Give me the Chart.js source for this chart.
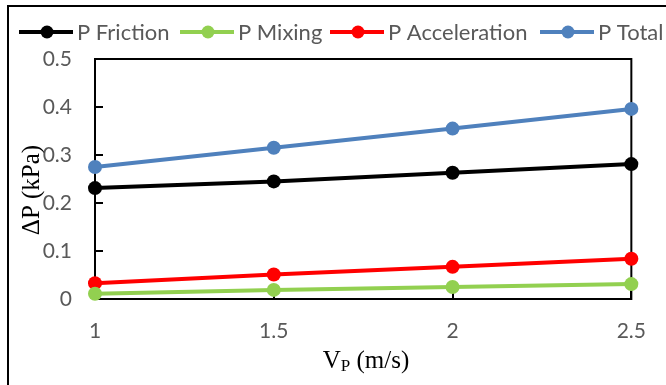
<!DOCTYPE html>
<html>
<head>
<meta charset="utf-8">
<script src="https://cdn.jsdelivr.net/npm/chart.js@4"></script>
<style>
  body { margin: 0; background: #fff; }
  canvas { display: block; }
</style>
</head>
<body>
<canvas id="myChart" width="666" height="385"></canvas>
<script>
// Velocity values (m/s)
const velocities = [1, 1.5, 2, 2.5];
// Pressure drop components (kPa)
const pFriction = [0.231, 0.245, 0.263, 0.281];
const pMixing = [0.011, 0.019, 0.025, 0.031];
const pAcceleration = [0.033, 0.051, 0.067, 0.084];
const pTotal = [0.275, 0.315, 0.355, 0.396];

const seriesNames = ['P Friction', 'P Mixing', 'P Acceleration', 'P Total'];
const seriesValues = [pFriction, pMixing, pAcceleration, pTotal];
const seriesColors = ['#000000', '#92D050', '#FF0000', '#4F81BD'];

const tickFont = { family: 'Lato', size: 21 };
const tickColor = '#595959';

const datasets = seriesNames.map((name, i) => ({
    label: name,
    data: velocities.map((v, j) => ({ x: v, y: seriesValues[i][j] })),
    borderColor: seriesColors[i],
    backgroundColor: seriesColors[i],
    borderWidth: 4,
    pointRadius: 7,
    pointHoverRadius: 7,
    pointBorderWidth: 0,
    clip: false,
    tension: 0
}));

// plot frame, inner tick marks, axis titles and legend
const decorations = {
    id: 'decorations',
    beforeDatasetsDraw(chart) {
        const ctx = chart.ctx;
        const a = chart.chartArea;
        const xs = chart.scales.x, ys = chart.scales.y;
        ctx.save();
        ctx.strokeStyle = '#000';
        ctx.lineWidth = 2;
        ctx.strokeRect(a.left, a.top, a.right - a.left, a.bottom - a.top);
        ctx.beginPath();
        ys.ticks.forEach(t => {
            const y = Math.round(ys.getPixelForValue(t.value));
            ctx.moveTo(a.left, y);
            ctx.lineTo(a.left + 8, y);
        });
        xs.ticks.forEach(t => {
            const x = Math.round(xs.getPixelForValue(t.value));
            ctx.moveTo(x, a.bottom);
            ctx.lineTo(x, a.bottom - 8);
        });
        ctx.stroke();
        ctx.restore();
    },
    afterDraw(chart) {
        const ctx = chart.ctx;
        ctx.save();

        // outer chart border
        ctx.strokeStyle = '#000';
        ctx.lineWidth = 2;
        ctx.beginPath();
        ctx.moveTo(8, 385);
        ctx.lineTo(8, 6);
        ctx.lineTo(666, 6);
        ctx.stroke();

        // y axis title
        ctx.fillStyle = '#000';
        ctx.font = '25px "Liberation Serif"';
        ctx.textAlign = 'center';
        ctx.textBaseline = 'middle';
        ctx.translate(32, 190);
        ctx.rotate(-Math.PI / 2);
        ctx.fillText('ΔP (kPa)', 0, 0);
        ctx.setTransform(1, 0, 0, 1, 0, 0);

        // x axis title with subscript
        const big = '25px "Liberation Serif"', small = '17px "Liberation Serif"';
        ctx.textAlign = 'left';
        ctx.textBaseline = 'alphabetic';
        ctx.font = big;
        const wV = ctx.measureText('V').width;
        const wRest = ctx.measureText(' (m/s)').width;
        ctx.font = small;
        const wP = ctx.measureText('P').width;
        let x = 366 - (wV + wP + wRest) / 2;
        const base = 368;
        ctx.font = big;
        ctx.fillText('V', x, base);
        x += wV;
        ctx.font = small;
        ctx.fillText('P', x, base + 3);
        x += wP;
        ctx.font = big;
        ctx.fillText(' (m/s)', x, base);

        // legend
        const starts = [19, 180, 330, 540];
        ctx.font = '22px Lato';
        ctx.textBaseline = 'middle';
        seriesNames.forEach((name, i) => {
            const lx = starts[i], ly = 32;
            ctx.strokeStyle = seriesColors[i];
            ctx.fillStyle = seriesColors[i];
            ctx.lineWidth = 4;
            ctx.beginPath();
            ctx.moveTo(lx, ly);
            ctx.lineTo(lx + 54, ly);
            ctx.stroke();
            ctx.beginPath();
            ctx.arc(lx + 28, ly, 6.5, 0, Math.PI * 2);
            ctx.fill();
            ctx.fillStyle = tickColor;
            ctx.fillText(name, lx + 58, ly + 1);
        });
        ctx.restore();
    }
};

const config = {
    type: 'line',
    data: { datasets: datasets },
    options: {
        responsive: false,
        animation: false,
        layout: { padding: { left: 0, top: 59, right: 34, bottom: 0 } },
        plugins: { legend: { display: false }, tooltip: { enabled: false } },
        scales: {
            x: {
                type: 'linear',
                min: 1,
                max: 2.5,
                afterFit: s => { s.height = 86; },
                grid: { display: false, drawTicks: false },
                border: { display: false },
                ticks: { stepSize: 0.5, padding: 20, color: tickColor, font: tickFont,
                         callback: v => String(v) }
            },
            y: {
                min: 0,
                max: 0.5,
                afterFit: s => { s.width = 95; },
                grid: { display: false, drawTicks: false },
                border: { display: false },
                ticks: { stepSize: 0.1, padding: 23, color: tickColor, font: tickFont,
                         callback: v => String(v) }
            }
        }
    },
    plugins: [decorations]
};

const myChart = new Chart(document.getElementById('myChart'), config);
</script>
</body>
</html>
